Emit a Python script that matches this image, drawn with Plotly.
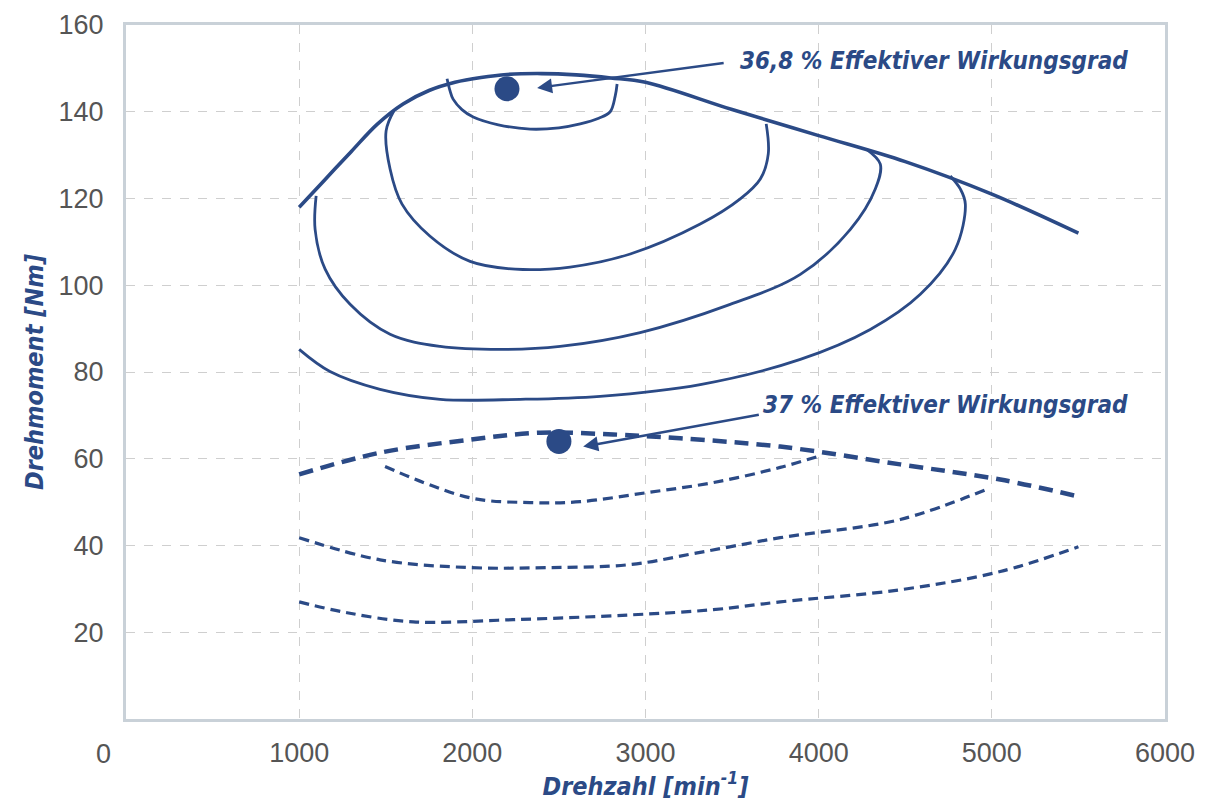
import plotly.graph_objects as go

BLUE = "#2b4a86"
GRID = "#cfcfcf"
FRAME = "#c9d1d8"
TICK = "#555555"
TFONT = "DejaVu Sans Condensed, Liberation Sans Narrow, sans-serif"
NFONT = "Liberation Sans, Arial, sans-serif"

# Full-load torque curve (solid, thick)
full_x = [1000, 1150, 1300, 1450, 1600, 1750, 1900, 2050, 2200, 2400, 2600, 2800, 3000, 3500, 4000, 4500, 5000, 5500]
full_y = [118, 124.4, 130.8, 137.1, 141.8, 144.9, 146.8, 147.9, 148.6, 148.8, 148.5, 147.8, 146.8, 140.5, 134.5, 128.5, 121, 112]

# Solid efficiency contours
c1_x = [1854, 1870, 1889, 1940, 2005, 2150, 2334, 2500, 2623, 2730, 2796, 2825, 2836]
c1_y = [147.6, 145.0, 142.9, 140.5, 138.8, 137.0, 136.0, 136.3, 137.2, 138.5, 140.0, 143.6, 146.4]

c2_x = [1548, 1502, 1525, 1594, 1756, 1987, 2247, 2565, 2912, 3316, 3547, 3663, 3709, 3697]
c2_y = [140.3, 135.6, 126.8, 118.7, 111.3, 105.5, 103.7, 104.2, 107.2, 114.1, 119.9, 124.5, 130.3, 137.2]

c3_x = [1098, 1092, 1150, 1294, 1525, 1814, 2161, 2507, 2969, 3489, 3894, 4183, 4327, 4356, 4275]
c3_y = [120.6, 112.9, 103.7, 95.6, 88.7, 85.9, 85.2, 85.9, 89.1, 95.6, 102.5, 112.9, 122.2, 127.9, 131.4]

c4_x = [1000, 1178, 1467, 1814, 2276, 2738, 3316, 3894, 4298, 4587, 4789, 4847, 4818, 4760]
c4_y = [85.2, 80.1, 76.0, 73.7, 73.7, 74.4, 77.1, 82.9, 89.8, 97.9, 108.3, 118.7, 122.2, 125.2]

# Dashed curves
d0_x = [1000, 1467, 1987, 2392, 2813, 3200, 3778, 4471, 5049, 5500]
d0_y = [56.4, 61.4, 64.4, 66.0, 65.6, 64.7, 62.8, 58.7, 55.2, 51.3]

d1_x = [1496, 1987, 2334, 2623, 3010, 3391, 3778, 4009]
d1_y = [58.2, 51.0, 49.9, 50.1, 52.2, 54.5, 58.0, 60.7]

d2_x = [1000, 1467, 1987, 2432, 2912, 3299, 3778, 4471, 4991]
d2_y = [41.8, 36.7, 34.9, 34.9, 35.6, 38.3, 41.8, 46.0, 53.3]

d3_x = [1000, 1277, 1658, 2236, 2912, 3391, 3778, 4471, 5049, 5500]
d3_y = [27.0, 24.5, 22.4, 22.9, 24.0, 25.2, 27.0, 29.8, 34.0, 39.7]

# Optimum points
pt_x = [2200, 2500]
pt_y = [145.3, 64.0]
labels = ["36,8 % Effektiver Wirkungsgrad", "37 % Effektiver Wirkungsgrad"]
label_x = [5800, 5800]
label_y = [151.8, 72.5]
arrow_head_x = [2374, 2640]
arrow_head_y = [145.5, 62.8]
arrow_tail_x = [3460, 3663]
arrow_tail_y = [151.3, 70.2]

x_ticks = [1000, 2000, 3000, 4000, 5000, 6000]
y_ticks = [20, 40, 60, 80, 100, 120, 140, 160]

fig = go.Figure()

def add_line(x, y, width, dash="solid"):
    fig.add_trace(go.Scatter(x=x, y=y, mode="lines",
                             line=dict(color=BLUE, width=width, dash=dash, shape="spline", smoothing=1.0),
                             hoverinfo="skip", showlegend=False))

add_line(full_x, full_y, 3.6)
for cx, cy in [(c1_x, c1_y), (c2_x, c2_y), (c3_x, c3_y), (c4_x, c4_y)]:
    add_line(cx, cy, 2.8)
add_line(d0_x, d0_y, 4.5, "14px,8px")
for dx, dy in [(d1_x, d1_y), (d2_x, d2_y), (d3_x, d3_y)]:
    add_line(dx, dy, 3.2, "10px,6px")

fig.add_trace(go.Scatter(x=pt_x, y=pt_y, mode="markers",
                         marker=dict(color=BLUE, size=25), showlegend=False, hoverinfo="skip"))

for i in range(2):
    fig.add_annotation(x=arrow_head_x[i], y=arrow_head_y[i],
                       ax=arrow_tail_x[i], ay=arrow_tail_y[i], axref="x", ayref="y",
                       xref="x", yref="y", text="", showarrow=True,
                       arrowhead=2, arrowsize=1.2, arrowwidth=2.5, arrowcolor=BLUE)
    fig.add_annotation(x=label_x[i], y=label_y[i], xref="x", yref="y", text=labels[i],
                       showarrow=False, xanchor="right", yanchor="middle",
                       font=dict(family=TFONT, size=24, color=BLUE, weight="bold", style="italic"))

# zero label for x axis (drawn offset left in the original)
fig.add_annotation(x=-0.0212, y=0, xref="paper", yref="paper", text="0", showarrow=False,
                   xanchor="center", yanchor="top", yshift=-18,
                   font=dict(family=NFONT, size=27, color=TICK))

fig.update_layout(
    width=1211, height=807,
    margin=dict(l=118, r=54, t=17, b=96),
    plot_bgcolor="white", paper_bgcolor="white",
    xaxis=dict(range=[0, 6000], tickvals=x_ticks, showgrid=True, gridcolor=GRID, griddash="dash",
               gridwidth=1, showline=True, mirror=True, linecolor=FRAME, linewidth=3,
               zeroline=False, ticks="", ticklabelstandoff=8, automargin=False,
               tickfont=dict(family=NFONT, size=27, color=TICK),
               title=dict(text="Drehzahl [min<sup>-1</sup>]", standoff=4,
                          font=dict(family=TFONT, size=25, color=BLUE, weight="bold", style="italic"))),
    yaxis=dict(range=[0, 160], tickvals=y_ticks, showgrid=True, gridcolor=GRID, griddash="dash",
               gridwidth=1, showline=True, mirror=True, linecolor=FRAME, linewidth=3,
               zeroline=False, ticks="", ticklabelstandoff=14, automargin=False,
               tickfont=dict(family=NFONT, size=27, color=TICK),
               title=dict(text="Drehmoment [Nm]", standoff=8,
                          font=dict(family=TFONT, size=25, color=BLUE, weight="bold", style="italic"))),
)

fig.write_html("out.html")
